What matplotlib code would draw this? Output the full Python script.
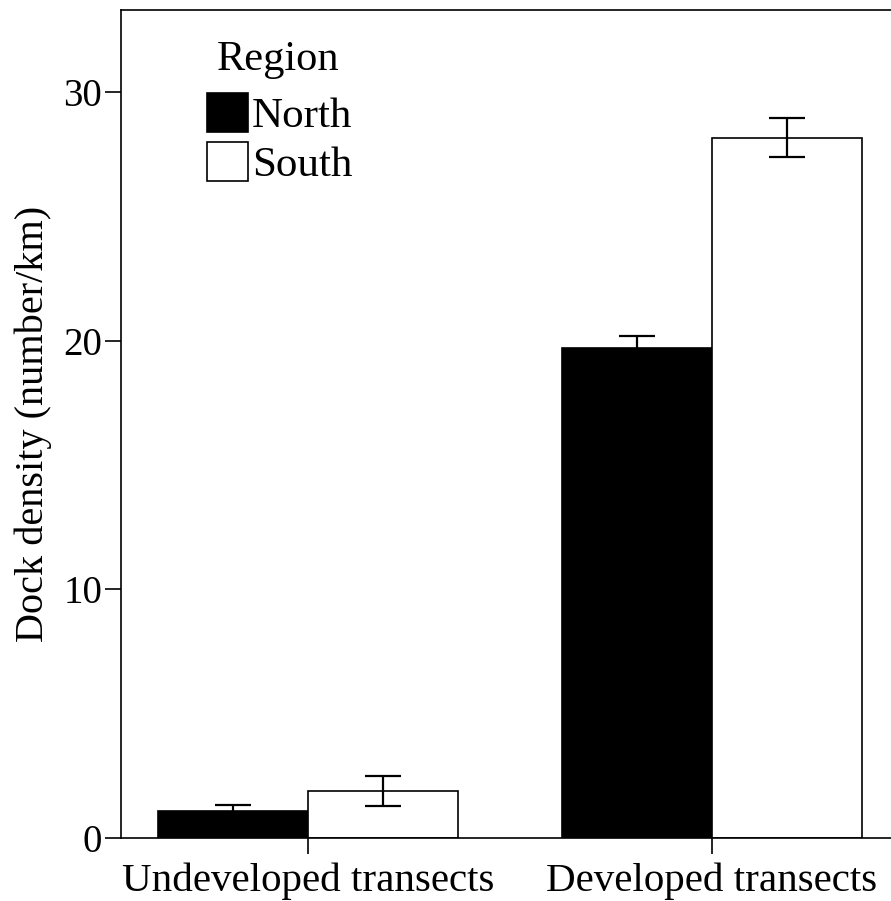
import matplotlib.pyplot as plt
import numpy as np

plt.rcParams["font.family"] = ["Liberation Serif", "DejaVu Serif"]

categories = ["Undeveloped transects", "Developed transects"]
regions = ["North", "South"]
north_mean = [1.09, 19.71]
north_err = [0.24, 0.47]
south_mean = [1.90, 28.16]
south_err = [0.60, 0.78]

W, H = 891, 901
fig = plt.figure(figsize=(W / 100, H / 100), dpi=100)
ax = fig.add_axes([121 / W, 1 - 838 / H, 778 / W, 828 / H])

x = np.arange(len(categories))
w = 0.371
err_kw = dict(ecolor="black", elinewidth=1.6, capsize=13, capthick=1.6)
ax.bar(x - w / 2, north_mean, w, yerr=north_err, color="black",
       edgecolor="black", linewidth=1.2, label=regions[0], error_kw=err_kw)
ax.bar(x + w / 2, south_mean, w, yerr=south_err, color="white",
       edgecolor="black", linewidth=1.2, label=regions[1], error_kw=err_kw)

ax.set_xlim(-0.463, 1.463)
ax.set_ylim(0, 33.3)
ax.set_xticks(x)
ax.set_xticklabels(categories)
ax.set_yticks([0, 10, 20, 30])
ax.tick_params(axis="both", direction="out", length=11.5, width=1.2,
               labelsize=28, pad=2, colors="black")
ax.tick_params(axis="x", labelsize=29.5, pad=6)
for s in ax.spines.values():
    s.set_linewidth(1.2)
ax.set_ylabel("Dock density (number/km)", fontsize=29, labelpad=8)

# legend title drawn separately to get the wider gap above the entries
fig.text(278 / W, 1 - 70 / H, "Region", fontsize=30.5, ha="center",
         va="baseline")
ax.legend(loc="upper left", bbox_to_anchor=(207 / W, 1 - 93 / H),
          bbox_transform=fig.transFigure, frameon=False, fontsize=31,
          handlelength=0.95, handleheight=1.0, handletextpad=0.1,
          labelspacing=0.15, borderpad=0, borderaxespad=0)

fig.savefig("out.png", dpi=100)
